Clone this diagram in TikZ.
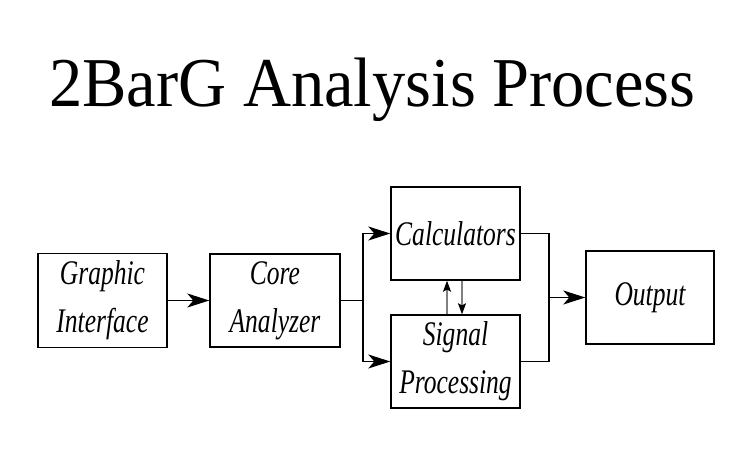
\documentclass[tikz,border=0pt]{standalone}
\usepackage{fontspec}
\usetikzlibrary{arrows.meta}
\newfontfamily\boxfont{Liberation Serif}[FakeStretch=0.74]
\newfontfamily\titlefont{Liberation Serif}[FakeStretch=0.95]
\begin{document}
\begin{tikzpicture}[x=1pt,y=-1pt,
  blk/.style={draw,line width=1.4pt,inner sep=0pt,align=center,
    font=\boxfont\itshape\fontsize{34.5}{48}\selectfont},
  conn/.style={line width=1.4pt},
  bigarr/.style={conn,-{Stealth[length=22pt,width=14pt,inset=6pt]}},
  smallarr/.style={line width=1.2pt,draw=gray,-{Stealth[length=11pt,width=8pt,inset=2pt,color=black]}}]
\useasboundingbox (0,0) rectangle (756,454);
\node[font=\titlefont\fontsize{70}{80}\selectfont,anchor=base] (title) at (372.5,107) {2BarG Analysis Process};
\node[blk,minimum width=129pt,minimum height=94pt] (gi) at (102.5,300.5) {Graphic\\Interface};
\node[blk,minimum width=130pt,minimum height=93pt] (ca) at (275,300.5) {Core\\Analyzer};
\node[blk,minimum width=129pt,minimum height=93pt] (calc) at (455.5,233.5) {Calculators};
\node[blk,minimum width=129pt,minimum height=93pt] (sig) at (455.5,361.5) {Signal\\Processing};
\node[blk,minimum width=128pt,minimum height=93pt] (out) at (650,297.5) {Output};
\coordinate (j1) at (363,300.5);
\coordinate (j2) at (549,297.5);
\draw[bigarr] (gi) -- (ca);
\draw[conn] (ca.east) -- (j1);
\draw[bigarr] (j1) |- (calc.west);
\draw[bigarr] (j1) |- (sig.west);
\draw[conn] (calc.east) -| (j2) |- (sig.east);
\draw[bigarr] (j2) -- (out.west);
\draw[smallarr] ([xshift=-8.5pt]sig.north) -- ([xshift=-8.5pt]calc.south);
\draw[smallarr] ([xshift=6.5pt]calc.south) -- ([xshift=6.5pt]sig.north);
\end{tikzpicture}
\end{document}
